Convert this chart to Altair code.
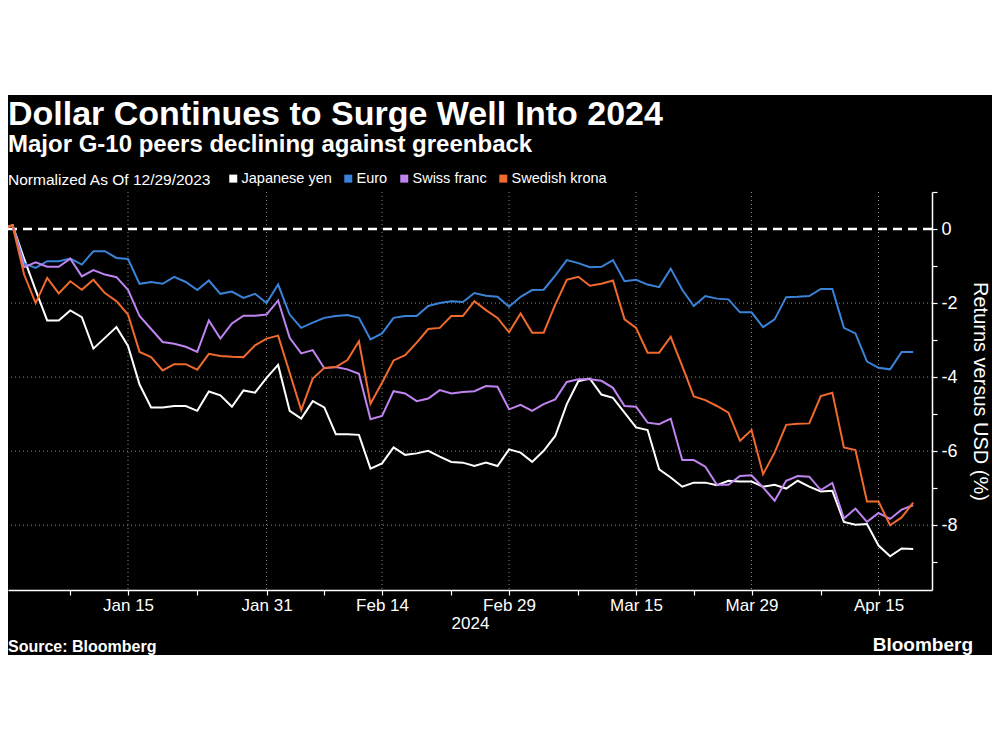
import altair as alt
import pandas as pd

# ---- data (returns vs USD, %, normalized as of 12/29/2023), one value per trading day ----
dates = pd.bdate_range("2023-12-29", "2024-04-18")  # 80 weekdays

series_names = ["Japanese yen", "Euro", "Swiss franc", "Swedish krona"]
series_colors = ["#ffffff", "#3a83d8", "#bf84f0", "#f06a2e"]

yen = [0, 0.1, -0.8, -1.65, -2.47, -2.47, -2.2, -2.38, -3.23, -2.94,
       -2.65, -3.16, -4.2, -4.82, -4.82, -4.78, -4.78, -4.91, -4.39, -4.49,
       -4.8, -4.36, -4.42, -4.02, -3.67, -4.91, -5.12, -4.65, -4.82, -5.54,
       -5.54, -5.56, -6.47, -6.33, -5.9, -6.1, -6.06, -5.99, -6.15, -6.29,
       -6.31, -6.4, -6.31, -6.4, -5.95, -6.04, -6.29, -5.99, -5.59, -4.73,
       -4.11, -4.04, -4.47, -4.56, -4.96, -5.36, -5.43, -6.49, -6.71, -6.96,
       -6.85, -6.85, -6.92, -6.8, -6.82, -6.82, -6.96, -6.91, -7.01, -6.8,
       -6.96, -7.09, -7.07, -7.91, -7.99, -7.97, -8.55, -8.84, -8.63, -8.64]

euro = [0, 0.1, -0.93, -1.05, -0.87, -0.87, -0.8, -0.96, -0.6, -0.6,
        -0.78, -0.81, -1.48, -1.43, -1.48, -1.29, -1.43, -1.65, -1.39, -1.75,
        -1.69, -1.86, -1.75, -2.0, -1.5, -2.31, -2.67, -2.53, -2.4, -2.35,
        -2.32, -2.4, -2.98, -2.82, -2.4, -2.35, -2.35, -2.08, -2.0, -1.95,
        -1.97, -1.73, -1.8, -1.83, -2.1, -1.83, -1.65, -1.64, -1.26, -0.84,
        -0.92, -1.03, -1.02, -0.84, -1.41, -1.37, -1.5, -1.57, -1.07, -1.64,
        -2.08, -1.81, -1.88, -1.9, -2.25, -2.25, -2.65, -2.44, -1.84, -1.83,
        -1.81, -1.62, -1.62, -2.67, -2.82, -3.58, -3.75, -3.79, -3.32, -3.32]

chf = [0, 0.1, -1.03, -0.9, -1.02, -1.02, -0.8, -1.28, -1.11, -1.23,
       -1.3, -1.64, -2.35, -2.7, -3.05, -3.1, -3.18, -3.32, -2.47, -2.96,
       -2.55, -2.34, -2.34, -2.31, -1.93, -2.94, -3.36, -3.27, -3.76, -3.73,
       -3.79, -3.91, -5.14, -5.05, -4.38, -4.44, -4.65, -4.58, -4.35, -4.44,
       -4.4, -4.38, -4.24, -4.26, -4.87, -4.75, -4.91, -4.73, -4.6, -4.13,
       -4.06, -4.06, -4.1, -4.29, -4.78, -4.8, -5.23, -5.27, -5.12, -6.24,
       -6.24, -6.42, -6.91, -6.91, -6.67, -6.65, -6.98, -7.34, -6.8, -6.67,
       -6.69, -7.05, -6.86, -7.82, -7.55, -7.91, -7.67, -7.83, -7.58, -7.46]

sek = [0, 0.1, -1.23, -2.0, -1.32, -1.74, -1.41, -1.64, -1.37, -1.73,
       -1.95, -2.31, -3.32, -3.46, -3.82, -3.65, -3.65, -3.8, -3.37, -3.43,
       -3.45, -3.46, -3.14, -2.96, -2.88, -3.88, -4.89, -4.04, -3.75, -3.73,
       -3.54, -3.03, -4.72, -4.15, -3.55, -3.41, -3.07, -2.7, -2.67, -2.35,
       -2.35, -1.95, -2.19, -2.4, -2.79, -2.28, -2.8, -2.8, -2.04, -1.37,
       -1.29, -1.53, -1.48, -1.39, -2.44, -2.67, -3.34, -3.34, -2.91, -3.7,
       -4.52, -4.62, -4.78, -4.96, -5.72, -5.43, -6.62, -6.04, -5.29, -5.26,
       -5.25, -4.51, -4.42, -5.9, -5.97, -7.36, -7.36, -8.0, -7.79, -7.39]

major_idx = [11, 23, 33, 44, 55, 65, 76]
major_labels = ["Jan 15", "Jan 31", "Feb 14", "Feb 29", "Mar 15", "Mar 29", "Apr 15"]
minor_idx = [6, 17, 28, 39, 50, 60, 71]
y_grid_values = [-2, -4, -6, -8]
y_tick_values = [1, 0, -1, -2, -3, -4, -5, -6, -7, -8, -9]
zero_line = [0]

TITLE = "Dollar Continues to Surge Well Into 2024"
SUBTITLE = "Major G-10 peers declining against greenback"
LEGEND_TITLE = "Normalized As Of 12/29/2023"
Y_TITLE = "Returns versus USD (%)"
X_TITLE = "2024"
SOURCE = "Source: Bloomberg"
BRAND = "Bloomberg"

# ---- tables ----
rows = []
for name, vals in zip(series_names, [yen, euro, chf, sek]):
    for i, v in enumerate(vals):
        rows.append({"idx": i, "date": dates[i].strftime("%Y-%m-%d"),
                     "series": name, "value": v})
df = pd.DataFrame(rows)

FONT = "Liberation Sans"
W, H = 924, 398
x_scale = alt.Scale(domain=[0.606, 80.63], nice=False, zero=False)
y_scale = alt.Scale(domain=[-9.75, 1.0], nice=False, zero=False)

x_label_expr = " : ".join(
    f"datum.value == {i} ? '{lab}'" for i, lab in zip(major_idx, major_labels)
) + " : ''"

x_axis = alt.Axis(
    values=sorted(major_idx + minor_idx), labelExpr=x_label_expr, grid=False,
    title=X_TITLE, titleFont=FONT, titleFontSize=17, titleFontWeight="normal",
    titleColor="white", titlePadding=2,
    labelFont=FONT, labelFontSize=17, labelColor="white", labelPadding=2,
    labelOverlap=False, labelFlush=False,
    domainColor="white", domainWidth=1.5, tickColor="white", tickSize=5, tickWidth=1.2,
)
y_axis = alt.Axis(
    orient="right", values=y_tick_values,
    labelExpr="datum.value % 2 == 0 ? toString(datum.value) : ''",
    grid=False, title=Y_TITLE, titleAngle=90, titleFont=FONT, titleFontSize=20,
    titleFontWeight="normal", titleColor="white", titlePadding=12,
    labelFont=FONT, labelFontSize=18, labelColor="white", labelPadding=4,
    labelOverlap=False, labelFlush=False,
    domainColor="white", domainWidth=1.5, tickColor="white", tickSize=5, tickWidth=1.2,
)

# white band above the black panel
band = alt.Chart(pd.DataFrame({"k": [0]})).mark_rect(color="white").encode(
    x=alt.value(0), x2=alt.value(1000), y=alt.value(-190), y2=alt.value(-97)
)

vgrid = alt.Chart(pd.DataFrame({"idx": major_idx})).mark_rule(
    color="#8a8a8a", strokeDash=[1, 3], strokeWidth=1
).encode(x=alt.X("idx:Q", scale=x_scale, axis=x_axis))

hgrid = alt.Chart(pd.DataFrame({"value": y_grid_values})).mark_rule(
    color="#8a8a8a", strokeDash=[1, 3], strokeWidth=1
).encode(y=alt.Y("value:Q", scale=y_scale, axis=y_axis))

zero = alt.Chart(pd.DataFrame({"value": zero_line})).mark_rule(
    color="white", strokeDash=[9, 6], strokeWidth=2.5
).encode(y=alt.Y("value:Q", scale=y_scale, axis=y_axis))

lines = alt.Chart(df).mark_line(strokeWidth=2).encode(
    x=alt.X("idx:Q", scale=x_scale, axis=x_axis),
    y=alt.Y("value:Q", scale=y_scale, axis=y_axis),
    color=alt.Color(
        "series:N",
        scale=alt.Scale(domain=series_names, range=series_colors),
        legend=alt.Legend(
            orient="none", legendX=0, legendY=-21, direction="horizontal",
            title=LEGEND_TITLE, titleOrient="left", titleFont=FONT, titleFontSize=15.5,
            titleFontWeight="normal", titleColor="white", titlePadding=14,
            titleBaseline="middle", titleLimit=500,
            labelFont=FONT, labelFontSize=14.5, labelColor="white", labelOffset=1,
            labelLimit=300,
            symbolType="square", symbolSize=16, symbolStrokeWidth=4,
            columnPadding=6,
        ),
    ),
    order=alt.Order("idx:Q"),
)

def text_layer(txt, x, y, size, bold=True, align="left"):
    return alt.Chart(pd.DataFrame({"t": [txt]})).mark_text(
        align=align, baseline="alphabetic", font=FONT, fontSize=size,
        fontWeight="bold" if bold else "normal", color="white",
    ).encode(x=alt.value(x), y=alt.value(y), text="t:N")

title = text_layer(TITLE, 0, -67, 34)
subtitle = text_layer(SUBTITLE, 0, -40, 24)
source = text_layer(SOURCE, 0, 460, 16)
brand = text_layer(BRAND, 965, 459, 19, align="right")

chart = alt.layer(
    band, vgrid, hgrid, zero, lines, title, subtitle, source, brand
).properties(
    width=W, height=H,
    autosize=alt.AutoSizeParams(type="none"),
    padding={"left": 0, "top": 184, "right": 60, "bottom": 65},
    background="black",
).configure_view(stroke=None)

chart.save("out.html", embed_options={"renderer": "svg", "actions": False})
